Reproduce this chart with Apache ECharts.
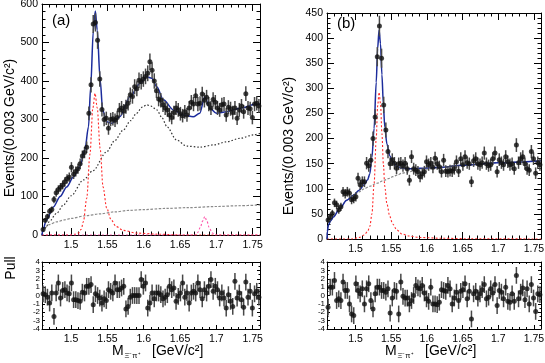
<!DOCTYPE html>
<html>
<head>
<meta charset="utf-8">
<script src="https://cdn.jsdelivr.net/npm/echarts@6/dist/echarts.min.js"></script>
<style>
html, body { margin: 0; padding: 0; background: #fff; }
#chart { width: 545px; height: 363px; }
</style>
</head>
<body>
<div id="chart"></div>
<script>
// histogram binning, 0.003 GeV/c2 bins starting at 1.46
const binStart = 1.46
const binWidth = 0.003

// panel (a): events per bin
const countsA = [
  14, 38, 48, 62, 66, 92, 110, 118, 124, 130,
  138, 146, 150, 176, 158, 165, 172, 185, 205, 214,
  228, 316, 390, 548, 552, 506, 405, 326, 300, 303,
  277, 300, 302, 298, 305, 325, 330, 322, 333, 342,
  364, 360, 385, 380, 402, 398, 405, 412, 420, 450,
  428, 400, 375, 353, 350, 338, 330, 325, 312, 305,
  318, 330, 325, 315, 310, 320, 312, 330, 345, 340,
  362, 340, 342, 366, 350, 358, 340, 330, 352, 345,
  330, 325, 338, 340, 312, 332, 328, 318, 330, 303,
  325, 335, 320, 367, 330, 328, 305, 340, 342, 335
]
const pullA = [
  0.2, 0.1, -0.2, -0.9, 0.3, -2.5, 0.3, 1.5, -0.3, 0.6,
  0.7, 0.3, 0.2, 1.5, -0.5, -0.5, -0.6, -0.7, 0.4, 0.3,
  1.1, 1.1, 1.3, -1.1, 0.2, 0.0, -0.3, -0.9, -0.4, -0.6,
  0.7, 0.5, 0.3, 1.5, 0.7, 0.7, 0.9, 1.1, -1.6, -1.3,
  -0.2, 0.0, 0.0, 0.0, 0.0, 1.9, 1.1, 1.5, -1.5, -0.9,
  0.3, -0.4, 0.3, 0.3, 0.1, -0.4, -0.2, 0.1, 1.1, 0.7,
  0.9, -0.7, -0.1, 0.3, 1.5, -0.2, 0.3, -0.9, 0.3, 0.5,
  0.3, 1.5, 0.7, -0.4, 0.7, 0.3, 1.1, 1.9, 0.5, 1.1,
  0.7, -0.3, 0.3, -0.3, -1.5, 0.1, -0.7, -1.3, 1.7, -0.3,
  0.3, -0.5, -1.4, 1.6, -0.2, 0.5, -1.5, 0.2, 0.5, -0.2
]

// panel (a) fit components
const fitXA = [1.46, 1.4615, 1.466, 1.4756, 1.485, 1.494, 1.503, 1.512, 1.519, 1.524, 1.527, 1.5306, 1.5334, 1.536, 1.540, 1.5435, 1.549, 1.556, 1.567, 1.581, 1.595, 1.604, 1.611, 1.618, 1.627, 1.641, 1.654, 1.668, 1.677, 1.684, 1.691, 1.700, 1.714, 1.732, 1.755, 1.76]
const fitYA = [0, 15, 39, 73, 100, 125, 150, 177, 221, 281, 385, 530, 582, 532, 403, 325, 294, 290, 307, 359, 394, 411, 407, 385, 351, 325, 312, 307, 316, 359, 329, 316, 320, 329, 340, 341]
const bwXA = [1.46, 1.462, 1.466, 1.47, 1.48, 1.49, 1.50, 1.517, 1.53, 1.549, 1.56, 1.572, 1.582, 1.59, 1.598, 1.604, 1.61, 1.618, 1.625, 1.632, 1.645, 1.659, 1.677, 1.696, 1.714, 1.732, 1.751, 1.76]
const bwYA = [0, 10, 22, 35, 56, 79, 102, 143, 167, 216, 245, 273, 297, 316, 332, 338, 335, 325, 305, 281, 247, 231, 228, 234, 242, 251, 260, 264]
const bkgXA = [1.46, 1.462, 1.465, 1.47, 1.48, 1.49, 1.50, 1.52, 1.54, 1.56, 1.58, 1.60, 1.63, 1.66, 1.70, 1.73, 1.76]
const bkgYA = [0, 12, 20, 27, 34, 39, 43, 50, 55, 60, 64, 66, 69, 71, 74, 76, 78]
const xi1530XA = [1.46, 1.50, 1.505, 1.51, 1.514, 1.517, 1.5215, 1.526, 1.530, 1.533, 1.536, 1.540, 1.544, 1.549, 1.555, 1.562, 1.572, 1.59, 1.62, 1.65, 1.76]
const xi1530YA = [0, 0, 2, 5, 15, 35, 95, 210, 330, 368, 330, 225, 125, 70, 40, 22, 12, 5, 2, 0, 0]
const xi1690XA = [1.46, 1.670, 1.674, 1.678, 1.681, 1.684, 1.687, 1.690, 1.694, 1.698, 1.76]
const xi1690YA = [0, 0, 6, 20, 36, 48, 36, 20, 6, 0, 0]

// panel (b): events per bin
const countsB = [
  38, 44, 51, 72, 68, 58, 64, 94, 90, 94,
  91, 78, 80, 84, 121, 108, 114, 114, 151, 146,
  157, 200, 243, 363, 424, 360, 267, 217, 174, 150,
  158, 151, 141, 150, 151, 146, 151, 140, 117, 164,
  140, 137, 134, 124, 130, 134, 154, 148, 151, 143,
  161, 150, 144, 134, 157, 135, 134, 136, 135, 140,
  154, 135, 160, 148, 164, 152, 150, 114, 156, 160,
  150, 148, 152, 171, 150, 146, 148, 160, 171, 134,
  158, 152, 148, 164, 154, 148, 150, 140, 187, 152,
  160, 164, 150, 140, 137, 174, 160, 131, 152, 148
]
const pullB = [
  -1.4, 1.0, 1.0, 1.8, -0.6, -0.4, -0.6, 1.6, 0.6, 0.6,
  -1.0, -2.2, -2.4, 1.4, 0.6, 0.2, 0.8, -1.0, 0.8, 1.4,
  -0.6, -1.6, 0.2, 1.0, 1.0, 0.6, 0.6, 0.4, 0.8, -2.1,
  -0.3, 0.6, 0.5, -2.2, 1.6, -0.1, -0.3, -0.3, -1.0, -0.6,
  0.0, 1.2, 0.9, 0.8, 1.2, 0.3, -0.4, -0.7, 1.0, -1.0,
  -1.0, -1.1, -0.8, 0.7, 0.6, 0.5, 1.2, 0.8, -1.0, -0.3,
  0.4, -0.6, 0.5, 0.7, 1.4, -0.4, 0.5, -2.8, 0.2, 0.5,
  -0.3, 0.2, 0.7, 1.3, -0.4, -0.2, 0.8, 0.3, 1.3, -1.2,
  0.6, 0.4, -0.4, 1.0, -0.7, -0.8, 0.2, -0.7, 2.4, -0.4,
  0.4, 0.9, -0.5, 0.8, -1.0, 1.3, -0.3, -1.9, 0.2, 0.1
]

// panel (b) fit components
const fitXB = [1.46, 1.4605, 1.462, 1.465, 1.469, 1.478, 1.4876, 1.497, 1.505, 1.512, 1.517, 1.52, 1.523, 1.526, 1.529, 1.531, 1.533, 1.535, 1.537, 1.539, 1.541, 1.544, 1.548, 1.552, 1.558, 1.565, 1.575, 1.59, 1.62, 1.65, 1.7, 1.76]
const fitYB = [0, 15, 28, 36, 44, 61, 77, 87, 97, 108, 118, 130, 162, 220, 312, 380, 416, 389, 327, 268, 223, 189, 166, 154, 145, 141, 140, 141, 143, 147, 152, 156]
const bkgXB = [1.46, 1.4605, 1.462, 1.465, 1.469, 1.478, 1.4876, 1.497, 1.505, 1.512, 1.52, 1.53, 1.54, 1.548, 1.552, 1.558, 1.565, 1.575, 1.59, 1.62, 1.65, 1.7, 1.76]
const bkgYB = [0, 15, 28, 36, 44, 61, 77, 87, 94, 100, 105, 111, 117, 121, 124, 127, 131, 134, 138, 142, 147, 152, 156]
const xi1530XB = [1.46, 1.495, 1.505, 1.512, 1.517, 1.52, 1.523, 1.526, 1.529, 1.531, 1.533, 1.535, 1.537, 1.539, 1.541, 1.544, 1.548, 1.552, 1.558, 1.565, 1.575, 1.59, 1.62, 1.66, 1.76]
const xi1530YB = [0, 0, 3, 8, 15, 25, 50, 110, 200, 265, 292, 270, 210, 150, 105, 70, 45, 30, 18, 10, 6, 3, 1.5, 0.5, 0]

const font = 'Liberation Sans'
const ink = '#000'

function binX(i) {
  return binStart + binWidth * (i + 0.5)
}

function pairs(xs, ys) {
  return xs.map((x, i) => [x, ys[i]])
}

function curve(xs, ys, g, color, width, type, z) {
  return {
    type: 'line', xAxisIndex: 2 * g, yAxisIndex: 2 * g,
    data: pairs(xs, ys),
    showSymbol: false, smooth: 0.3, smoothMonotone: 'x',
    lineStyle: { color, width, type },
    silent: true, animation: false, z
  }
}

function errBars(vals, errs, g) {
  return {
    type: 'custom', xAxisIndex: 2 * g, yAxisIndex: 2 * g, z: 5, animation: false, silent: true,
    data: vals.map((v, i) => [binX(i), v - errs[i], v + errs[i]]),
    encode: { x: 0, y: [1, 2] },
    renderItem(params, api) {
      const a = api.coord([api.value(0), api.value(1)])
      const b = api.coord([api.value(0), api.value(2)])
      return {
        type: 'line',
        shape: { x1: a[0], y1: a[1], x2: b[0], y2: b[1] },
        style: { stroke: '#484848', lineWidth: 1.5 }
      }
    }
  }
}

function dots(vals, g) {
  return {
    type: 'scatter', xAxisIndex: 2 * g, yAxisIndex: 2 * g, z: 6, animation: false, silent: true,
    data: vals.map((v, i) => [binX(i), v]),
    symbolSize: 5, itemStyle: { color: '#111' }
  }
}

function xAxes(g, tickLen) {
  const base = {
    type: 'value', gridIndex: g, min: 1.46, max: 1.76, splitNumber: 6,
    axisLine: { show: true, onZero: false, lineStyle: { color: ink, width: 1 } },
    axisTick: { show: true, inside: true, length: tickLen, lineStyle: { color: ink } },
    minorTick: { show: true, splitNumber: 5, length: tickLen / 2, lineStyle: { color: ink } },
    splitLine: { show: false }
  }
  return [
    { ...base, position: 'bottom',
      axisLabel: { show: true, showMinLabel: false, showMaxLabel: false, color: ink, fontSize: 10.5, fontFamily: font, margin: 5 } },
    { ...base, position: 'top', axisLabel: { show: false } }
  ]
}

function yAxes(g, min, max, interval, minorSplit, tickLen, labelSize) {
  const small = labelSize < 10
  const base = {
    type: 'value', gridIndex: g, min, max, interval,
    axisLine: { show: true, onZero: false, lineStyle: { color: ink, width: 1 } },
    axisTick: { show: true, inside: true, length: tickLen, lineStyle: { color: ink } },
    minorTick: { show: true, splitNumber: minorSplit, length: tickLen / 2, lineStyle: { color: ink } },
    splitLine: { show: false }
  }
  return [
    { ...base, position: 'left',
      axisLabel: { show: true, interval: 0, showMinLabel: true, showMaxLabel: true, hideOverlap: false,
        color: ink, fontSize: labelSize, fontFamily: font, margin: small ? 2 : 4,
        lineHeight: small ? 6 : undefined } },
    { ...base, position: 'right', axisLabel: { show: false } }
  ]
}

const errA = countsA.map(v => Math.sqrt(v))
const errB = countsB.map(v => Math.sqrt(v))
const unitErr = pullA.map(() => 1)

function vText(x, y, text, size) {
  return {
    type: 'text', x, y, rotation: Math.PI / 2,
    style: { text, fill: ink, font: size + 'px ' + font, align: 'center', verticalAlign: 'middle' }
  }
}

function massTitle(x, y) {
  return {
    type: 'group', x, y,
    children: [
      { type: 'text', x: 0, y: 0, style: { text: 'M', fill: ink, font: '14px ' + font, verticalAlign: 'middle' } },
      { type: 'text', x: 12.5, y: 5, style: { text: 'Ξ⁻π⁺', fill: ink, font: '7.5px ' + font, verticalAlign: 'middle' } },
      { type: 'text', x: 40, y: 0, style: { text: '[GeV/c²]', fill: ink, font: '14px ' + font, verticalAlign: 'middle' } }
    ]
  }
}

const chart = echarts.init(document.getElementById('chart'), null, { renderer: 'canvas' })

chart.setOption({
  animation: false,
  backgroundColor: '#fff',
  textStyle: { fontFamily: font },
  grid: [
    { left: 42, top: 4, width: 218, height: 231, outerBoundsMode: 'none' },
    { left: 327, top: 13, width: 214, height: 226, outerBoundsMode: 'none' },
    { left: 42, top: 262, width: 218, height: 67, outerBoundsMode: 'none' },
    { left: 327, top: 262, width: 214, height: 67, outerBoundsMode: 'none' }
  ],
  xAxis: [...xAxes(0, 7), ...xAxes(1, 7), ...xAxes(2, 4), ...xAxes(3, 4)],
  yAxis: [
    ...yAxes(0, 0, 600, 100, 5, 7, 10.5),
    ...yAxes(1, 0, 450, 50, 5, 7, 10.5),
    ...yAxes(2, -4, 4, 1, 2, 3, 8),
    ...yAxes(3, -4, 4, 1, 2, 3, 8)
  ],
  graphic: [
    { type: 'text', x: 52, y: 21, style: { text: '(a)', fill: ink, font: '15px ' + font, verticalAlign: 'middle' } },
    { type: 'text', x: 337, y: 24, style: { text: '(b)', fill: ink, font: '15px ' + font, verticalAlign: 'middle' } },
    vText(10, 128, 'Events/(0.003 GeV/c²)', 14),
    vText(289, 146, 'Events/(0.003 GeV/c²)', 14),
    vText(11, 268, 'Pull', 14),
    massTitle(112, 351),
    massTitle(385, 351)
  ],
  series: [
    curve(bkgXA, bkgYA, 0, '#8a8a8a', 1.2, [2.5, 1.5], 2),
    curve(bwXA, bwYA, 0, '#333', 1.2, [1.5, 2], 2),
    curve(xi1530XA, xi1530YA, 0, '#ff2a2a', 1.1, [2, 2], 2),
    curve(xi1690XA, xi1690YA, 0, '#ff4fa8', 1.1, [2, 2], 2),
    curve(fitXA, fitYA, 0, '#1c2c9c', 1.5, 'solid', 3),
    errBars(countsA, errA, 0),
    dots(countsA, 0),

    curve(bkgXB, bkgYB, 1, '#8a8a8a', 1.2, [2.5, 1.5], 2),
    curve(xi1530XB, xi1530YB, 1, '#ff2a2a', 1.1, [2, 2], 2),
    curve(fitXB, fitYB, 1, '#1c2c9c', 1.5, 'solid', 3),
    errBars(countsB, errB, 1),
    dots(countsB, 1),

    errBars(pullA, unitErr, 2),
    dots(pullA, 2),
    errBars(pullB, unitErr, 3),
    dots(pullB, 3)
  ]
})
</script>
</body>
</html>
